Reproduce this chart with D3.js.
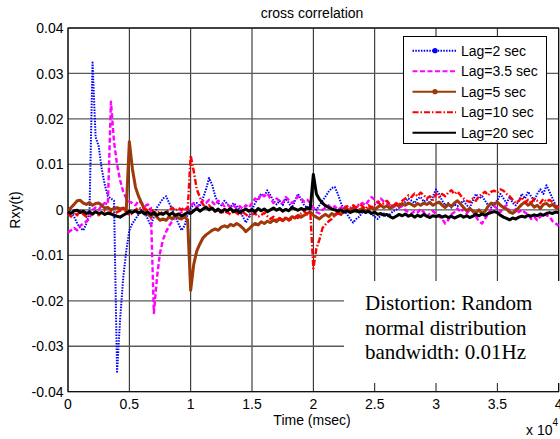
<!doctype html>
<html>
<head>
<meta charset="UTF-8">
<title>cross correlation</title>
<style>
  body { margin: 0; background: #fff; }
  svg text { font-family: Arial, "Liberation Sans", sans-serif; fill: #000; }
  .note { font-family: "Times New Roman", "Liberation Serif", serif; font-size: 21px; }
</style>
<script src="https://d3js.org/d3.v7.min.js"></script>
</head>
<body>
<svg id="chart" width="560" height="439"></svg>
<script>
// sample times (msec), one every 250 msec
var timeMs = d3.range(0, 40001, 250);

// Rxy(t), in units of 1e-3
var lag2 = [
  0.5, -0.5, -1.5, -3, -4, -4.5, -3, -0.5, 32.4, 16,
  14, 9, 5.5, 3, 2.5, 2, -35.6, -24, -15, -9,
  -4.5, -3, -2, -1, 0, -0.5, -2, -3.5, -1.5, 0.5,
  1.5, 2.5, 3, 1.5, 0, -1.5, -3, -4.5, -3.5, -1,
  0.5, 1, 1.5, 0.8, 2.5, 4.5, 7, 5.5, 3, 1.5,
  1, 2, 1.2, 0.5, 1.5, 0.8, 0.2, -1.5, -2.8, -1.5,
  0, 1.5, 2.5, 3.5, 3, 4.3, 3.2, 2, 1.2, 2,
  1, 2.5, 1.5, 0.5, 2, 3.5, 2.2, 1, 0.5, 1.2,
  0.5, 0, 1, 2, 3, 4, 4.8, 5, 3.5, 1.5,
  0, -1, -2, -2.8, -2, -1.5, -0.5, 0, -0.5, -1,
  -1.5, -2, -1.2, -0.8, -1.5, -1, -0.3, 0, 0.5, 1,
  1.8, 2.5, 2, 1.5, 2.5, 2.8, 1.8, 2.2, 1.4, 3,
  4.5, 3.5, 2, 1, 1.5, 0.5, 1.2, 0.8, 1.5, 2,
  1, 0.5, 2, 3.5, 2.5, 3, 2, 1, 0.5, 1.5,
  2, 3.5, 2.5, 1.5, 2.8, 1.5, 1, 2, 3.5, 2.5,
  4, 3, 2, 3.5, 4.5, 3.5, 5.4, 4, 2.5, 1,
  0.5
];
var lag35 = [
  -5, -4.5, -4, -4.5, -3.5, -3, -2.5, -2, 0, 0.5,
  0, 1, 1.5, 1.2, 23.8, 15, 10, 6.5, 4, 2.5,
  1.8, 1.5, 1, 2, 1.5, 0.8, 1.2, 0.5, -22.7, -15,
  -9.5, -6.5, -4.8, -3.5, -2.5, -1.5, -1, -0.5, 0, 0.5,
  1, 1.5, 0.5, 1.2, 2, 1.5, 2.2, 1.8, 1, 2,
  1.5, 0.8, 1.2, 0.5, 1, 0.3, 0.8, 0.2, 1, 0.5,
  1.5, 2.5, 2, 3.5, 3, 3.6, 2.5, 1.5, 2.5, 2,
  1.5, 2.8, 2.2, 1.5, 2, 3, 2.5, 1.8, 2.2, 1.5,
  0.5, -0.5, -0.8, 0, 0.5, 1, 0.3, 0.8, 0, 0.5,
  1, 0.2, 0.5, -0.3, 0.5, 1, 1.5, 1, 2, 2.8,
  2.2, 1.5, 2.5, 1.8, 1.4, 1, 0.5, 1, 0.5, 0.8,
  -0.1, -0.5, -0.8, -0.3, -0.6, 0.2, -0.5, -1.5, -0.8, -0.2,
  -1, -1.5, -2, -3, -2.2, -1, -0.5, 0.3, -0.5, 0.2,
  -0.8, 0, -0.3, -1.5, -2.5, -3, -2, -0.8, 0, 0.8,
  0.3, -0.5, 0.5, 1, -0.3, -0.8, 0.2, -0.5, 0, -0.6,
  -1, -2, -1.5, -2.3, -1.5, -0.8, -1.2, -1.5, -2.5, -3,
  -3.5
];
var lag5 = [
  -0.1, 0.5, 1.2, 2, 2.1, 1.5, 1.2, 1.6, 1, 1.4,
  1.5, 1, 0.4, 0.5, 0, 0.3, 0.5, 0.2, 0.4, 0,
  15, 9, 5, 3, 1.5, 0, -1, -1.5, -0.8, -1.6,
  -2.3, -2, -2.3, -1.5, -2, -1.2, -1.8, -2, -1.5, -2.2,
  -17.7, -12, -9, -7.5, -6.2, -5.5, -5, -4.5, -4.2, -4.5,
  -3.8, -3.5, -3.8, -3.2, -3.5, -3, -3.4, -4, -4.8, -4.2,
  -3.5, -3, -3.3, -2.6, -3, -2.5, -2.8, -2.2, -2.6, -2,
  -2.4, -1.8, -2.2, -1.5, -1.8, -1.2, -1.6, -1.2, -0.8, -0.5,
  -1.2, -1.6, -2, -1.4, -1, -1.5, -0.8, -1.2, -0.5, -1,
  -0.3, 0.2, -0.2, 0.5, -0.4, 0, 0.3, -0.3, 0.2, 0.5,
  0, 0.6, 1, 0.5, 0.9, 0.3, 0.8, 1.2, 0.8, 1.4,
  1, 1.5, 1.2, 0.8, 1.4, 1, 1.5, 1.2, 1.6, 1,
  1.4, 1.7, 1, 0.5, 1.2, 0.8, 1.5, 2, 1.3, 0.5,
  -0.2, 0.3, -0.3, -0.6, 0, -0.8, -0.3, 0.8, 1.5, 1.2,
  1.7, 1, 0.5, 0.2, -0.5, -0.8, -0.2, 0.5, 1.2, 1.7,
  1, 1.4, 0.6, 1, 0.3, 1.2, 1.4, 0.8, 1.2, 0.5,
  0.3
];
var lag10 = [
  -0.8, -1.5, -0.5, -1.2, -0.2, -1, -1.5, -0.5, -1, -0.3,
  -1.2, -0.5, -0.2, -0.8, -0.4, -1, -0.5, -0.2, 0.3, -0.5,
  -1.2, -0.8, 0, 0.5, 0.2, 0.4, -0.2, 0.3, -0.5, -0.8,
  -0.3, -0.9, -0.5, 0, 0.5, -0.2, 0.4, 0, 0.5, -0.3,
  12, 8.5, 4.5, 2.8, 1.2, 0.5, 1, 0.2, -0.5, 0,
  -0.8, -0.3, -0.6, -1, -0.2, -0.7, -1.2, -0.5, -1, -1.6,
  -1, -0.8, -1.5, -1.2, -0.6, -1.4, -2, -1.5, -2.3, -1.8,
  -2.2, -1.6, -2.3, -2, -1.2, -1.8, -0.8, -0.3, -1, -0.5,
  -12.9, -8.5, -6.5, -4, -3.2, -2.5, -2, -1.2, -0.8, -1,
  0.2, 0.8, 0.3, 1, 0.5, 1.4, 0.8, 0.2, 1, 0.5,
  1.2, 1.8, 1, 1.5, 2, 1.2, 0.8, 1.5, 1, 2,
  2.5, 3.2, 2.8, 3.6, 3, 3.8, 3.2, 2.5, 3, 2.2,
  3.5, 2.8, 3.5, 3, 3.8, 4.3, 3.5, 4, 3.2, 2.5,
  2, 1.7, 2.5, 2, 3, 3.5, 4, 3.2, 4, 4.2,
  3.8, 4.5, 4.2, 3.5, 3, 2.2, 1.5, 2, 2.8, 1.6,
  2.2, 1.4, 2.5, 2, 1.5, 2.4, 1.8, 2.2, 1.7, 1,
  0.5
];
var lag20 = [
  -0.5, -0.8, -0.2, -0.1, -0.6, -0.3, -0.8, -0.5, -0.9, -0.4,
  -0.8, -0.6, -1, -0.7, -0.9, -1.2, -1.4, -1.6, -1.2, -0.8,
  -0.3, -0.6, -0.2, -0.7, -0.4, -0.9, -0.5, -1, -0.6, -1.2,
  -0.8, -1, -0.5, -1.1, -0.7, -1.2, -0.9, -1.3, -1, -0.6,
  -0.8, -0.2, 0.3, -0.3, 0.2, 0.6, 0, 0.4, -0.3, 0.2,
  -0.5, 0.1, -0.2, 0.3, -0.4, 0, -0.6, -0.2, 0.2, -0.3,
  0.1, -0.5, 0.3, -0.2, 0.2, -0.4, 0, 0.4, -0.1, 0.3,
  -0.3, 0.1, -0.2, 0.5, 0.2, -0.1, 0.3, 0, 0.4, 0.2,
  7.8, 3.5, 2.3, 1.5, 0.9, 0.5, 0.2, 0, -0.3, 0,
  -0.5, -0.2, -0.6, -0.3, -0.1, -0.5, -0.2, -0.6, -0.3, -0.8,
  -0.5, -1, -0.8, -1.2, -1, -1.5, -1.8, -1.4, -1, -1.3,
  -0.9, -1.4, -1.1, -1.6, -1.2, -1.5, -1, -1.4, -1.7, -1.3,
  -1.5, -1.2, -1.6, -1.3, -1.7, -1.4, -1.8, -1.5, -1.2, -1.6,
  -1.3, -1.7, -1.4, -1, -1.3, -0.9, -1.2, -0.8, -0.6, -0.4,
  -0.6, -1.2, -1.6, -1.9, -2.2, -1.8, -2, -1.6, -1.4, -1.6,
  -1.2, -1.4, -1.1, -1.3, -0.9, -1.2, -0.8, -0.6, -0.8, -0.5,
  -0.6
];

var seriesNames = ["Lag=2 sec", "Lag=3.5 sec", "Lag=5 sec", "Lag=10 sec", "Lag=20 sec"];
var seriesValues = [lag2, lag35, lag5, lag10, lag20];

// ticks (x in units of 1e4 msec, y in units of 1e-3)
var xTicks = [0, 0.5, 1, 1.5, 2, 2.5, 3, 3.5, 4];
var xTickLabels = ["0", "0.5", "1", "1.5", "2", "2.5", "3", "3.5", "4"];
var yTicks = [-40, -30, -20, -10, 0, 10, 20, 30, 40];
var yTickLabels = ["-0.04", "-0.03", "-0.02", "-0.01", "0", "0.01", "0.02", "0.03", "0.04"];

var noteLines = ["Distortion: Random", "normal distribution", "bandwidth: 0.01Hz"];

// line looks, same order as the series
var styles = [
  {color: "#0000ff", width: 2, dash: "1.5,1.3", dot: true},
  {color: "#ff00ff", width: 2.4, dash: "5,2.5", dot: false},
  {color: "#9c3a0a", width: 3, dash: null, dot: true},
  {color: "#ff0000", width: 2.4, dash: "6,2,1.5,2", dot: false},
  {color: "#000000", width: 3, dash: null, dot: false}
];

function draw() {
  var svg = d3.select("#chart");
  var pLeft = 68, pRight = 558.7, pTop = 28, pBottom = 391.7;

  var x = d3.scaleLinear().domain([0, 40000]).range([pLeft, pRight]);
  var y = d3.scaleLinear().domain([-40, 40]).range([pBottom, pTop]);

  // grid
  svg.append("g").selectAll("line")
    .data(xTicks).enter().append("line")
      .attr("x1", function(d) { return x(d * 10000); })
      .attr("x2", function(d) { return x(d * 10000); })
      .attr("y1", pTop).attr("y2", pBottom)
      .attr("stroke", "#1a1a1a").attr("stroke-width", 1);

  svg.append("g").selectAll("line")
    .data(yTicks).enter().append("line")
      .attr("x1", pLeft).attr("x2", pRight)
      .attr("y1", function(d) { return y(d); })
      .attr("y2", function(d) { return y(d); })
      .attr("stroke", "#5a5a5a").attr("stroke-width", 1.3);

  // axes box
  svg.append("rect")
    .attr("x", pLeft).attr("y", pTop)
    .attr("width", pRight - pLeft).attr("height", pBottom - pTop)
    .attr("fill", "none").attr("stroke", "#000").attr("stroke-width", 1);

  // tick labels
  svg.append("g").selectAll("text")
    .data(yTicks).enter().append("text")
      .attr("x", pLeft - 4.5)
      .attr("y", function(d) { return y(d); })
      .attr("dy", "0.36em")
      .attr("text-anchor", "end")
      .attr("font-size", "14px")
      .text(function(d, i) { return yTickLabels[i]; });

  svg.append("g").selectAll("text")
    .data(xTicks).enter().append("text")
      .attr("x", function(d) { return x(d * 10000); })
      .attr("y", 409)
      .attr("text-anchor", "middle")
      .attr("font-size", "14px")
      .text(function(d, i) { return xTickLabels[i]; });

  // the curves
  var line = d3.line()
    .x(function(d, i) { return x(timeMs[i]); })
    .y(function(d) { return y(d); });

  svg.append("g").selectAll("path")
    .data(seriesValues).enter().append("path")
      .attr("d", line)
      .attr("fill", "none")
      .attr("stroke", function(d, i) { return styles[i].color; })
      .attr("stroke-width", function(d, i) { return styles[i].width; })
      .attr("stroke-dasharray", function(d, i) { return styles[i].dash; })
      .attr("stroke-linejoin", "round");

  // white note box over the lower right
  svg.append("rect")
    .attr("x", 344).attr("y", 281)
    .attr("width", 220).attr("height", 102)
    .attr("fill", "#fff");

  svg.append("g").selectAll("text")
    .data(noteLines).enter().append("text")
      .attr("class", "note")
      .attr("x", 365)
      .attr("y", function(d, i) { return 310 + i * 24.6; })
      .text(function(d) { return d; });

  // legend
  var lg = svg.append("g");
  lg.append("rect")
    .attr("x", 403.5).attr("y", 36.5)
    .attr("width", 143).attr("height", 107)
    .attr("fill", "#fff").attr("stroke", "#000").attr("stroke-width", 1);

  var rows = lg.selectAll("g.row")
    .data(seriesNames).enter().append("g")
      .attr("class", "row")
      .attr("transform", function(d, i) { return "translate(0," + (50.7 + i * 20.5) + ")"; });

  rows.append("line")
    .attr("x1", 412.5).attr("x2", 456)
    .attr("y1", 0).attr("y2", 0)
    .attr("stroke", function(d, i) { return styles[i].color; })
    .attr("stroke-width", function(d, i) { return Math.min(styles[i].width, 2); })
    .attr("stroke-dasharray", function(d, i) { return styles[i].dash; });

  rows.filter(function(d, i) { return styles[i].dot; })
    .append("circle")
      .attr("cx", 435).attr("cy", 0)
      .attr("r", 2.6)
      .attr("fill", function(d) { return styles[seriesNames.indexOf(d)].color; });

  rows.append("text")
    .attr("x", 461).attr("y", 0).attr("dy", "0.36em")
    .attr("font-size", "14px")
    .text(function(d) { return d; });

  // titles
  svg.append("text")
    .attr("x", 312).attr("y", 17.5)
    .attr("text-anchor", "middle").attr("font-size", "14px")
    .text("cross correlation");

  svg.append("text")
    .attr("transform", "translate(20,210) rotate(-90)")
    .attr("text-anchor", "middle").attr("font-size", "14px")
    .text("Rxy(t)");

  svg.append("text")
    .attr("x", 312).attr("y", 425)
    .attr("text-anchor", "middle").attr("font-size", "14px")
    .text("Time (msec)");

  var mult = svg.append("text").attr("x", 526).attr("y", 435).attr("font-size", "14px");
  mult.append("tspan").text("x 10");
  mult.append("tspan").attr("dy", -9).attr("font-size", "10px").text("4");
}

draw();
</script>
</body>
</html>
